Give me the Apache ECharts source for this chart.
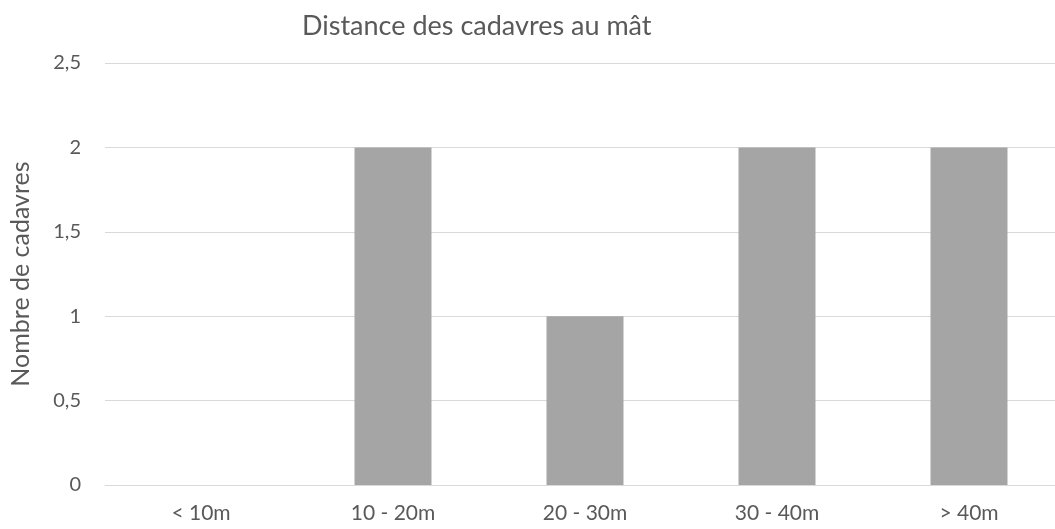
<!DOCTYPE html>
<html><head><meta charset="utf-8">
<script src="https://cdn.jsdelivr.net/npm/echarts@6/dist/echarts.min.js"></script>
<style>html,body{margin:0;padding:0;background:#fff;overflow:hidden;width:1055px;height:529px}#c{width:1066px;height:529px}</style>
</head><body><div id="c"></div>
<script>
const title = 'Distance des cadavres au mât';
const yAxisName = 'Nombre de cadavres';
const categories = ['< 10m', '10 - 20m', '20 - 30m', '30 - 40m', '> 40m'];
const values = [0, 2, 1, 2, 2];
const yTicks = [0, 0.5, 1, 1.5, 2, 2.5];

const chart = echarts.init(document.getElementById('c'));
const font = 'Lato, "Open Sans", sans-serif';
chart.setOption({
  animation: false,
  title: {
    text: title, left: 297, top: 8,
    textStyle: { fontFamily: font, fontSize: 27, fontWeight: 'normal', color: '#595959' }
  },
  grid: { left: 104, top: 63, bottom: 44, width: 961, containLabel: false },
  xAxis: {
    type: 'category', data: categories,
    axisLine: { show: true, lineStyle: { color: '#d9d9d9', width: 1 } },
    axisTick: { show: false },
    axisLabel: { fontFamily: font, fontSize: 21, color: '#595959', margin: 18 }
  },
  yAxis: {
    type: 'value', min: 0, max: 2.5, interval: 0.5,
    name: yAxisName, nameLocation: 'middle', nameGap: 72, nameRotate: 90,
    nameTextStyle: { fontFamily: font, fontSize: 25, color: '#595959' },
    axisLine: { show: false }, axisTick: { show: false },
    splitLine: { lineStyle: { color: '#d9d9d9', width: 1 } },
    axisLabel: { fontFamily: font, fontSize: 20, color: '#595959', margin: 24,
      formatter: v => yTicks.includes(v) ? String(v).replace('.', ',') : '' }
  },
  series: [{
    type: 'bar', data: values, barWidth: 77,
    itemStyle: { color: '#a5a5a5' }
  }]
});
</script></body></html>
